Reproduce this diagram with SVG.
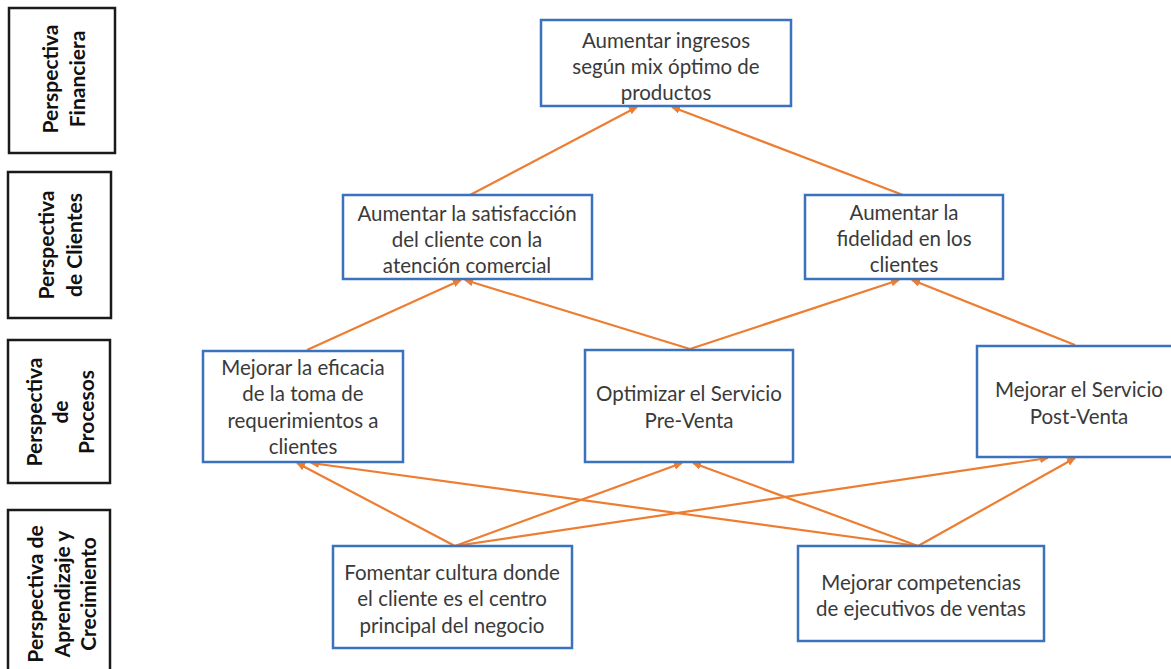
<svg xmlns="http://www.w3.org/2000/svg" width="1171" height="669" viewBox="0 0 1171 669">
  <style>
    .lane rect { fill: #ffffff; stroke: #1a1a1a; stroke-width: 2.5; }
    .lane text { font-family: Lato, "Liberation Sans", sans-serif; font-weight: bold; font-size: 21px; fill: #111111; text-anchor: middle; dominant-baseline: central; }
    .obj rect { fill: #ffffff; stroke: #3A72BE; stroke-width: 2.5; }
    .obj text { font-family: Lato, "Liberation Sans", sans-serif; font-size: 20.5px; fill: #3a3a3a; text-anchor: middle; }
    #connectors line { stroke: #ED7D31; stroke-width: 2.2; marker-end: url(#arrow); }
  </style>
  <defs>
    <marker id="arrow" markerUnits="userSpaceOnUse" markerWidth="10" markerHeight="10" refX="8" refY="4" orient="auto">
      <path d="M0,0 L9,4 L0,8 Z" fill="#ED7D31"/>
    </marker>
  </defs>
  <rect width="1171" height="669" fill="#ffffff"/>

  <!-- perspective labels (left column) -->
  <g id="lane-financiera" class="lane">
    <rect x="9" y="8" width="106" height="145"/>
    <text transform="translate(49,79) rotate(-90)">Perspectiva</text>
    <text transform="translate(76,79) rotate(-90)">Financiera</text>
  </g>
  <g id="lane-clientes" class="lane">
    <rect x="8" y="172" width="103" height="146"/>
    <text transform="translate(45,245) rotate(-90)">Perspectiva</text>
    <text transform="translate(73,245) rotate(-90)">de Clientes</text>
  </g>
  <g id="lane-procesos" class="lane">
    <rect x="8" y="340" width="102" height="143"/>
    <text transform="translate(33,412) rotate(-90)">Perspectiva</text>
    <text transform="translate(59,412) rotate(-90)">de</text>
    <text transform="translate(85,412) rotate(-90)">Procesos</text>
  </g>
  <g id="lane-aprendizaje" class="lane">
    <rect x="8" y="510" width="102" height="175"/>
    <text transform="translate(34,594) rotate(-90)">Perspectiva  de</text>
    <text transform="translate(61,594) rotate(-90)">Aprendizaje y</text>
    <text transform="translate(87,594) rotate(-90)">Crecimiento</text>
  </g>

  <!-- connectors -->
  <g id="connectors">
    <line x1="470" y1="195" x2="637" y2="107"/>
    <line x1="903" y1="195" x2="672" y2="107"/>
    <line x1="307" y1="350" x2="461" y2="280"/>
    <line x1="690" y1="349" x2="465" y2="280"/>
    <line x1="690" y1="349" x2="899" y2="280"/>
    <line x1="1075" y1="345" x2="912" y2="280"/>
    <line x1="455" y1="546" x2="297" y2="463"/>
    <line x1="455" y1="546" x2="682" y2="463"/>
    <line x1="455" y1="546" x2="1048" y2="458"/>
    <line x1="918" y1="546" x2="311" y2="463"/>
    <line x1="918" y1="546" x2="693" y2="463"/>
    <line x1="918" y1="546" x2="1075" y2="458"/>
  </g>

  <!-- objectives -->
  <g id="ingresos" class="obj">
    <rect x="541" y="20" width="250" height="86"/>
    <text x="666" y="48">Aumentar ingresos</text>
    <text x="666" y="74">según mix óptimo de</text>
    <text x="666" y="100">productos</text>
  </g>
  <g id="satisfaccion" class="obj">
    <rect x="343" y="195" width="249" height="84"/>
    <text x="467" y="221">Aumentar la satisfacción</text>
    <text x="467" y="247">del cliente con la</text>
    <text x="467" y="273">atención comercial</text>
  </g>
  <g id="fidelidad" class="obj">
    <rect x="805" y="195" width="198" height="84"/>
    <text x="904" y="220">Aumentar la</text>
    <text x="904" y="246">fidelidad en los</text>
    <text x="904" y="272">clientes</text>
  </g>
  <g id="requerimientos" class="obj">
    <rect x="203" y="351" width="200" height="111"/>
    <text x="303" y="375">Mejorar la eficacia</text>
    <text x="303" y="401">de la toma de</text>
    <text x="303" y="428">requerimientos a</text>
    <text x="303" y="454">clientes</text>
  </g>
  <g id="preventa" class="obj">
    <rect x="585" y="350" width="208" height="112"/>
    <text x="689" y="401">Optimizar el Servicio</text>
    <text x="689" y="428">Pre-Venta</text>
  </g>
  <g id="postventa" class="obj">
    <rect x="977" y="346" width="205" height="111"/>
    <text x="1079" y="397">Mejorar el Servicio</text>
    <text x="1079" y="424">Post-Venta</text>
  </g>
  <g id="cultura" class="obj">
    <rect x="333" y="546" width="239" height="102"/>
    <text x="452" y="580">Fomentar cultura donde</text>
    <text x="452" y="606">el cliente es el centro</text>
    <text x="452" y="633">principal del negocio</text>
  </g>
  <g id="competencias" class="obj">
    <rect x="798" y="546" width="246" height="95"/>
    <text x="921" y="590">Mejorar  competencias</text>
    <text x="921" y="616">de ejecutivos de ventas</text>
  </g>
</svg>
